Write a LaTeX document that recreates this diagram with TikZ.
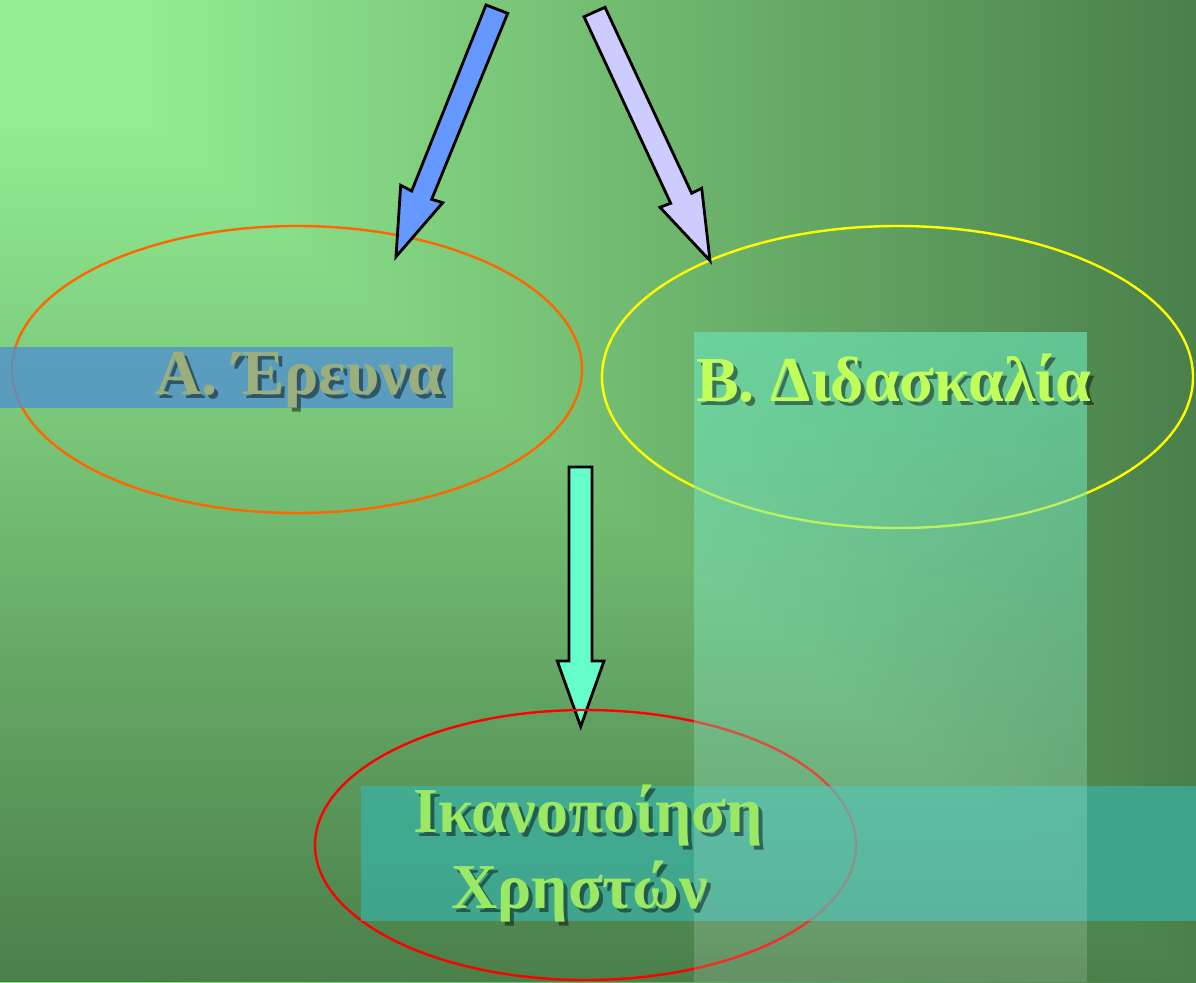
\documentclass[tikz,border=0pt]{standalone}
\usepackage{fontspec}
\setmainfont{Liberation Serif}
\usetikzlibrary{fadings}
\tikzfading[name=fadedown, top color=transparent!0, bottom color=transparent!100]
\definecolor{bgin}{HTML}{94EF94}
\definecolor{bgout}{HTML}{4A7F4A}
\definecolor{rtop}{HTML}{5CE0B0}
\definecolor{bandc}{HTML}{36B6AE}
\definecolor{blueband}{HTML}{5191CE}
\definecolor{arrblue}{HTML}{6699FF}
\definecolor{arrlav}{HTML}{CCCCFF}
\definecolor{arrteal}{HTML}{66FFCC}
\definecolor{txtA}{HTML}{9BAF7C}
\definecolor{txtB}{HTML}{C0FF5A}
\definecolor{txtC}{HTML}{9BE865}
\definecolor{ellor}{HTML}{FF6600}
\definecolor{ellye}{HTML}{FFFF00}
\definecolor{ellre}{HTML}{FF0000}
\pgfdeclarehorizontalshading{bgx}{100bp}{color(0bp)=(bgin); color(30bp)=(bgin); color(75bp)=(bgout); color(100bp)=(bgout)}
\pgfdeclareverticalshading{bgy}{100bp}{color(0bp)=(bgout); color(25bp)=(bgout); color(70bp)=(bgin); color(100bp)=(bgin)}
\tikzset{
  blockarrow/.style={draw=black, line width=2.8, line join=miter},
  ring/.style={line width=2.4},
  label/.style={font=\fontsize{64}{76}\selectfont\bfseries, inner sep=0pt, anchor=base west},
  shadowlabel/.style={label, text=black, text opacity=0.45}
}
\begin{document}
\begin{tikzpicture}[x=1pt,y=-1pt]
\useasboundingbox (0,0) rectangle (1196,982);
% background: rectangular gradient from the top-left corner
\fill[bgout] (-4,-4) rectangle (1200,986);
\shade[shading=bgx] (0,0) rectangle (1196,982);
\begin{scope}
\clip (0,0) -- (0,982) -- (1196,982) -- cycle;
\shade[shading=bgy] (0,0) rectangle (1196,982);
\end{scope}
% teal arrow (below red ellipse)
\filldraw[blockarrow, fill=arrteal] (569,467) -- (592,467) -- (592,661) -- (604,661) -- (580.7,726.5) -- (557.3,661) -- (569,661) -- cycle;
% ellipses
\draw[ring, ellor] (297,369.5) ellipse [x radius=285, y radius=143.5];
\draw[ring, ellye] (897.5,377) ellipse [x radius=295.5, y radius=151];
\draw[ring, ellre] (585.5,845) ellipse [x radius=270.5, y radius=135];
% blue arrow
\filldraw[blockarrow, fill=arrblue] (486,5) -- (507.7,13.3) -- (431.7,199.3) -- (442.7,202.7) -- (396,256.7) -- (400.7,185.3) -- (411.7,191) -- cycle;
% lavender arrow
\filldraw[blockarrow, fill=arrlav] (605,7.3) -- (584,16.7) -- (670.7,203.3) -- (660,207.3) -- (710,260.7) -- (701.7,188.3) -- (691.7,193.3) -- cycle;
% bands
\fill[blueband, fill opacity=0.8] (0,347) rectangle (453,408);
\fill[bandc, fill opacity=0.65] (361,786) rectangle (1196,921);
\fill[white, fill opacity=0.15] (694,332) rectangle (1087,982);
\fill[rtop, fill opacity=0.6, path fading=fadedown] (694,332) rectangle (1087,982);
% texts
\node[shadowlabel] (sa) at (159,398) {Α. Έρευνα};
\node[label, text=txtA] (ta) at (155,394) {Α. Έρευνα};
\node[shadowlabel] (sb) at (700,405) {Β. Διδασκαλία};
\node[label, text=txtB] (tb) at (696,401) {Β. Διδασκαλία};
\node[shadowlabel] (sc) at (417,836) {Ικανοποίηση};
\node[label, text=txtC] (tc) at (413,832) {Ικανοποίηση};
\node[shadowlabel] (sd) at (455,912) {Χρηστών};
\node[label, text=txtC] (td) at (451,908) {Χρηστών};
\end{tikzpicture}
\end{document}
